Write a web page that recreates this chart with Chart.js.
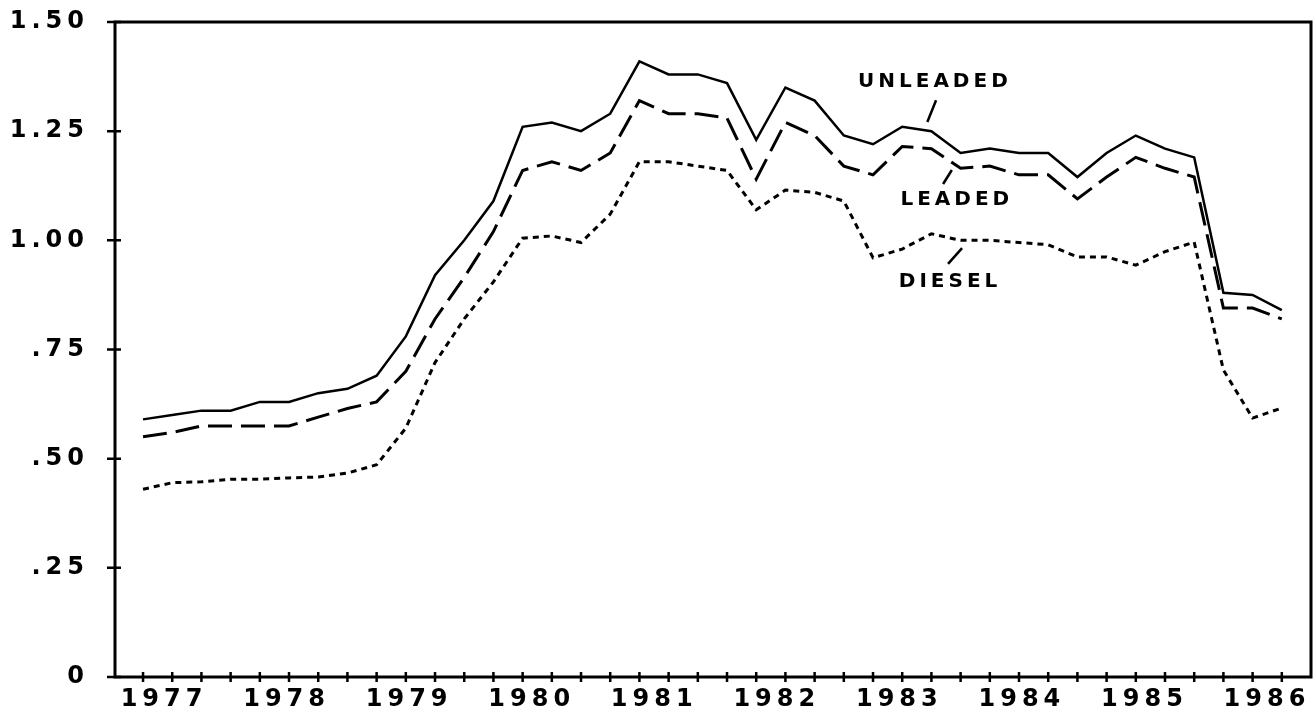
<!DOCTYPE html>
<html>
<head>
<meta charset="utf-8">
<script src="https://cdn.jsdelivr.net/npm/chart.js@4.4.0/dist/chart.umd.min.js"></script>
<style>
  html, body { margin: 0; padding: 0; background: #fff; }
  #chart { display: block; }
</style>
</head>
<body>
<canvas id="chart" width="1315" height="714"></canvas>
<script>
// Categories: quarters 1977 Q1 .. 1986 Q4
const years = ['1977', '1978', '1979', '1980', '1981', '1982', '1983', '1984', '1985', '1986'];
const quarters = ['Q1', 'Q2', 'Q3', 'Q4'];

// Prices per gallon (one value per quarter)
const unleaded = [0.59, 0.60, 0.61, 0.61, 0.63, 0.63, 0.65, 0.66, 0.69, 0.78,
                  0.92, 1.00, 1.09, 1.26, 1.27, 1.25, 1.29, 1.41, 1.38, 1.38,
                  1.36, 1.23, 1.35, 1.32, 1.24, 1.22, 1.26, 1.25, 1.20, 1.21,
                  1.20, 1.20, 1.145, 1.20, 1.24, 1.21, 1.19, 0.88, 0.875, 0.84];
const leaded = [0.55, 0.56, 0.575, 0.575, 0.575, 0.575, 0.595, 0.615, 0.63, 0.70,
                0.82, 0.915, 1.02, 1.16, 1.18, 1.16, 1.20, 1.32, 1.29, 1.29,
                1.28, 1.14, 1.27, 1.24, 1.17, 1.15, 1.215, 1.21, 1.165, 1.17,
                1.15, 1.15, 1.095, 1.145, 1.19, 1.165, 1.145, 0.845, 0.845, 0.82];
const diesel = [0.43, 0.445, 0.447, 0.453, 0.453, 0.456, 0.458, 0.467, 0.486, 0.57,
                0.72, 0.82, 0.905, 1.005, 1.01, 0.995, 1.06, 1.18, 1.18, 1.17,
                1.16, 1.07, 1.115, 1.11, 1.09, 0.96, 0.98, 1.015, 1.00, 1.00,
                0.995, 0.99, 0.962, 0.962, 0.943, 0.974, 0.996, 0.703, 0.593, 0.616];

// Y tick labels
const yTickValues = [0, 0.25, 0.5, 0.75, 1.0, 1.25, 1.5];
const yTickLabels = ['0', '.25', '.50', '.75', '1.00', '1.25', '1.50'];

// Series name labels placed on the plot, with small leader strokes (in data units)
const seriesNotes = [
    { text: 'UNLEADED', x: 27.05, y: 1.363, lead: [27.16, 1.321, 26.86, 1.271] },
    { text: 'LEADED',   x: 27.80, y: 1.092, lead: [27.70, 1.161, 27.40, 1.129] },
    { text: 'DIESEL',   x: 27.57, y: 0.905, lead: [28.05, 0.982, 27.57, 0.946] }
];

const periods = [];
years.forEach(y => quarters.forEach(q => periods.push(y + ' ' + q)));

function toPoints(values) {
    return values.map((v, i) => ({ x: i, y: v }));
}

// year labels sit a little wider apart than the quarter ticks
const yearLabelStart = 0.72;
const yearLabelStep = 4.197;
const yearTicks = years.map((y, k) => ({ value: yearLabelStart + yearLabelStep * k, label: y }));

const axisFont = { family: '"DejaVu Sans", sans-serif', size: 24, weight: 'bold' };
const LETTER_SPACING = '5px';

const framePlugin = {
    id: 'frame',
    beforeLayout(chart) { chart.ctx.letterSpacing = LETTER_SPACING; },
    beforeDraw(chart) { chart.ctx.letterSpacing = LETTER_SPACING; },
    afterDraw(chart) {
        const ctx = chart.ctx;
        const a = chart.chartArea;
        const xs = chart.scales.x;
        const ys = chart.scales.y;
        ctx.save();
        ctx.strokeStyle = '#000';
        ctx.lineCap = 'butt';

        // box round the plot
        ctx.lineWidth = 3;
        ctx.strokeRect(a.left, a.top, a.right - a.left, a.bottom - a.top);

        // tick marks crossing the axes
        ctx.lineWidth = 2.5;
        ctx.beginPath();
        ys.ticks.forEach(t => {
            const py = ys.getPixelForValue(t.value);
            ctx.moveTo(a.left - 8, py);
            ctx.lineTo(a.left + 6, py);
        });
        xs.ticks.forEach(t => {
            if (!Number.isInteger(t.value)) return;
            const px = xs.getPixelForValue(t.value);
            ctx.moveTo(px, a.bottom - 5);
            ctx.lineTo(px, a.bottom + 5);
        });
        ctx.stroke();

        // series names and leaders
        ctx.fillStyle = '#000';
        ctx.font = 'bold 20px "DejaVu Sans", sans-serif';
        ctx.letterSpacing = '4px';
        ctx.textAlign = 'center';
        ctx.textBaseline = 'middle';
        ctx.lineWidth = 2.5;
        seriesNotes.forEach(n => {
            ctx.fillText(n.text, xs.getPixelForValue(n.x) + 2, ys.getPixelForValue(n.y));
            ctx.beginPath();
            ctx.moveTo(xs.getPixelForValue(n.lead[0]), ys.getPixelForValue(n.lead[1]));
            ctx.lineTo(xs.getPixelForValue(n.lead[2]), ys.getPixelForValue(n.lead[3]));
            ctx.stroke();
        });
        ctx.restore();
        ctx.letterSpacing = LETTER_SPACING;
    }
};

const ctx = document.getElementById('chart').getContext('2d');
new Chart(ctx, {
    type: 'line',
    data: {
        labels: periods,
        datasets: [
            {
                label: 'UNLEADED',
                data: toPoints(unleaded),
                borderColor: '#000',
                borderWidth: 2.5,
                pointRadius: 0,
                tension: 0,
                fill: false
            },
            {
                label: 'LEADED',
                data: toPoints(leaded),
                borderColor: '#000',
                borderWidth: 3,
                borderDash: [24, 9],
                pointRadius: 0,
                tension: 0,
                fill: false
            },
            {
                label: 'DIESEL',
                data: toPoints(diesel),
                borderColor: '#000',
                borderWidth: 3,
                borderDash: [6, 5],
                pointRadius: 0,
                tension: 0,
                fill: false
            }
        ]
    },
    options: {
        responsive: false,
        animation: false,
        layout: { padding: { top: 22, right: 4, left: 0, bottom: 0 } },
        plugins: {
            legend: { display: false },
            tooltip: { enabled: false }
        },
        scales: {
            x: {
                type: 'linear',
                min: -0.96,
                max: 40,
                grid: { display: false, drawTicks: false },
                border: { display: false },
                afterBuildTicks: scale => {
                    const t = periods.map((p, i) => ({ value: i, label: '' }));
                    scale.ticks = t.concat(yearTicks).sort((a, b) => a.value - b.value);
                },
                afterFit: scale => {
                    scale.height = 37;
                    scale.paddingLeft = 0;
                    scale.paddingRight = 0;
                },
                ticks: {
                    autoSkip: false,
                    maxRotation: 0,
                    minRotation: 0,
                    padding: 8,
                    color: '#000',
                    font: axisFont,
                    callback: function (value) {
                        const hit = yearTicks.find(t => Math.abs(t.value - value) < 1e-6);
                        return hit ? hit.label : '';
                    }
                }
            },
            y: {
                min: 0,
                max: 1.5,
                grid: { display: false, drawTicks: false },
                border: { display: false },
                afterBuildTicks: scale => {
                    scale.ticks = yTickValues.map(v => ({ value: v }));
                },
                afterFit: scale => {
                    scale.width = 115;
                    scale.paddingTop = 0;
                    scale.paddingBottom = 0;
                },
                ticks: {
                    padding: 26,
                    color: '#000',
                    font: axisFont,
                    callback: function (value) {
                        const i = yTickValues.indexOf(value);
                        return i >= 0 ? yTickLabels[i] : '';
                    }
                }
            }
        }
    },
    plugins: [framePlugin]
});
</script>
</body>
</html>
